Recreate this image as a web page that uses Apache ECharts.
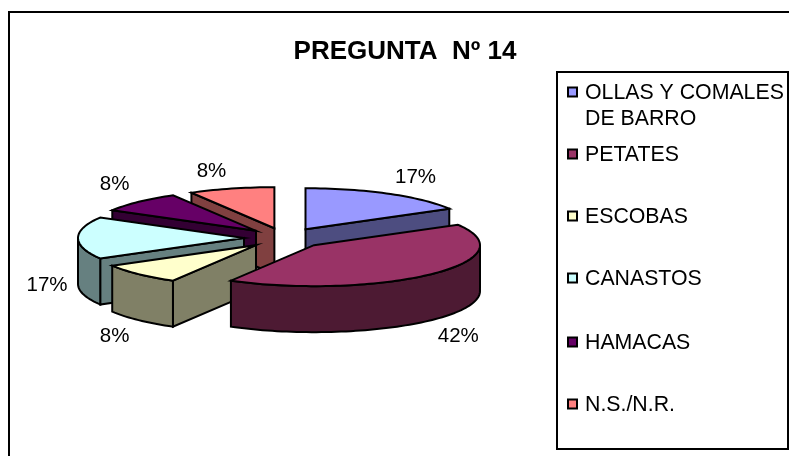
<!DOCTYPE html>
<html>
<head>
<meta charset="utf-8">
<style>html,body{margin:0;padding:0;background:#fff}#chart{width:789px;height:456px}</style>
<script src="https://cdn.jsdelivr.net/npm/echarts@6/dist/echarts.min.js"></script>
</head>
<body>
<div id="chart"></div>
<script>
const titleText = 'PREGUNTA  Nº 14';
const categories = ['OLLAS Y COMALES\nDE BARRO', 'PETATES', 'ESCOBAS', 'CANASTOS', 'HAMACAS', 'N.S./N.R.'];
const shares = [16.67, 41.67, 8.33, 16.67, 8.33, 8.33];
const topColors = ['#9999FF', '#993366', '#FFFFCC', '#CCFFFF', '#660066', '#FF8080'];
const sideColors = ['#4D4D80', '#4D1A33', '#808066', '#668080', '#330033', '#804040'];
const paintOrder = [5, 4, 3, 2, 0, 1];

// layout of the tilted, exploded pie
const pie = { cx: 285, cy: 238, a: 166, b: 41, depth: 46, explode: 41 };
const labelOffsets = [[27, -16], [27, 16], [-24, 16], [-31, 24], [-24, -17], [-20, -17]];
const legendMarkerY = [92, 154, 216, 278, 342, 404];
const ink = '#000';

const total = shares.reduce((s, v) => s + v, 0);
const startAngles = shares.map((_, i) => shares.slice(0, i).reduce((s, v) => s + v, 0) / total * 2 * Math.PI);
const endAngles = shares.map((_, i) => shares.slice(0, i + 1).reduce((s, v) => s + v, 0) / total * 2 * Math.PI);

function rimPoint(ax, ay, t) { return [ax + pie.a * Math.sin(t), ay - pie.b * Math.cos(t)]; }
function arc(ax, ay, t0, t1) {
  const n = Math.max(2, Math.ceil((t1 - t0) / 0.03));
  const out = [];
  for (let k = 0; k <= n; k++) out.push(rimPoint(ax, ay, t0 + (t1 - t0) * k / n));
  return out;
}
function poly(points, fill, z2) {
  return { type: 'polygon', z2, shape: { points },
    style: { fill, stroke: ink, lineWidth: 2, lineJoin: 'miter' } };
}
function renderSlice(params, api) {
  const i = paintOrder[params.dataIndex];
  const t0 = startAngles[i], t1 = endAngles[i], mid = (t0 + t1) / 2;
  const ax = pie.cx + pie.explode * Math.sin(mid);
  const ay = pie.cy - pie.explode * pie.b / pie.a * Math.cos(mid);
  const d = pie.depth, base = params.dataIndex * 10;
  const down = p => [p[0], p[1] + d];
  const kids = [];
  const cutFace = (t, z) => {
    const r = rimPoint(ax, ay, t);
    kids.push(poly([[ax, ay], r, down(r), [ax, ay + d]], sideColors[i], z));
  };
  if (Math.sin(t0) < -1e-6) cutFace(t0, base + 1);
  if (Math.sin(t1) > 1e-6) cutFace(t1, base + 1);
  const r0 = Math.max(t0, Math.PI / 2), r1 = Math.min(t1, 1.5 * Math.PI);
  if (r1 > r0) {
    const outer = arc(ax, ay, r0, r1);
    kids.push(poly(outer.concat(outer.slice().reverse().map(down)), sideColors[i], base + 2));
  }
  kids.push(poly([[ax, ay]].concat(arc(ax, ay, t0, t1)), topColors[i], base + 3));
  const rim = rimPoint(ax, ay, mid);
  const cosM = Math.cos(mid);
  const rimY = rim[1] + (cosM < -0.01 ? d : Math.abs(cosM) <= 0.01 ? d / 2 : 0);
  kids.push({ type: 'text', z2: 500, style: {
    x: rim[0] + labelOffsets[i][0], y: rimY + labelOffsets[i][1],
    text: Math.round(api.value(0)) + '%', fill: ink, align: 'center', verticalAlign: 'middle',
    font: '20.5px "Liberation Sans", Arial, sans-serif' } });
  return { type: 'group', children: kids };
}

const chart = echarts.init(document.getElementById('chart'), null, { renderer: 'canvas' });
const legendGraphics = [];
categories.forEach((name, i) => {
  legendGraphics.push({ type: 'rect', shape: { x: 568, y: legendMarkerY[i] - 4.5, width: 9, height: 9 },
    style: { fill: topColors[i], stroke: ink, lineWidth: 2 } });
  legendGraphics.push({ type: 'text', style: { x: 585, y: legendMarkerY[i] - 11.5, text: name, fill: ink,
    font: '21.3px "Liberation Sans", Arial, sans-serif', lineHeight: 26, verticalAlign: 'top' } });
});
chart.setOption({
  animation: false,
  backgroundColor: '#fff',
  title: { text: titleText, left: 400, top: 34, textAlign: 'center',
    textStyle: { fontFamily: '"Liberation Sans", Arial, sans-serif', fontWeight: 'bold', fontSize: 26, color: ink } },
  graphic: [
    { type: 'rect', shape: { x: 9, y: 12, width: 790, height: 460 }, style: { fill: 'none', stroke: ink, lineWidth: 2 } },
    { type: 'rect', shape: { x: 557, y: 72, width: 231, height: 377 }, style: { fill: '#fff', stroke: ink, lineWidth: 2 } }
  ].concat(legendGraphics),
  series: [{
    type: 'custom', coordinateSystem: 'none', renderItem: renderSlice, silent: true,
    data: paintOrder.map(i => ({ name: categories[i], value: [shares[i]] }))
  }]
});
</script>
</body>
</html>
